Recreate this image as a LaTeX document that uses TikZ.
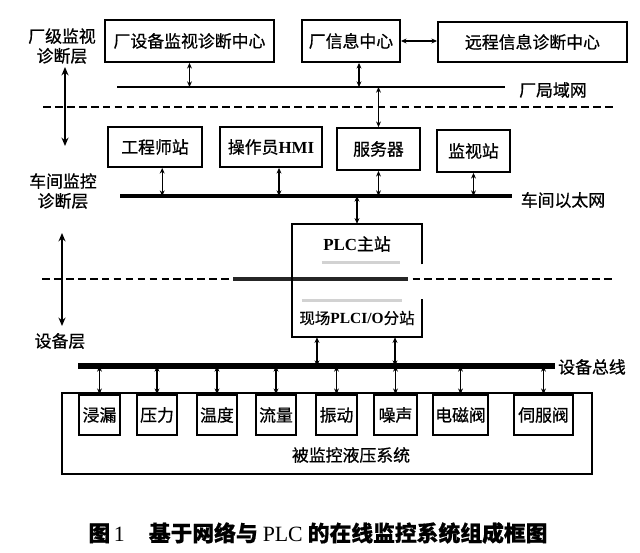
\documentclass[tikz,border=0pt]{standalone}
\usepackage{fontspec}
\setmainfont{Noto Sans CJK SC}[FakeBold=0.7]
\newfontfamily\lat{Liberation Serif}
\usetikzlibrary{arrows.meta, calc}

\begin{document}
\begin{tikzpicture}[
    x=0.025cm, y=-0.025cm,
    >={Stealth[length=4pt,width=3.5pt]},
    font=\fontsize{12}{14}\selectfont,
    box/.style={
        draw,
        line width=1.3pt,
        inner sep=1pt
    },
    sensor/.style={box, minimum height=1cm},
    link/.style={<->, line width=0.9pt},
    net/.style={line width=1.4pt},
    layer/.style={line width=2pt, dash pattern=on 5.5pt off 3pt},
    span/.style={{Stealth[length=6pt,width=5pt]}-{Stealth[length=6pt,width=5pt]}, line width=1.2pt},
    lbl/.style={align=center, inner sep=0pt}
]
\useasboundingbox (0,0) rectangle (640,553);

% layer labels
\node[lbl] (lvl1) at (62,46) {厂级监视\\诊断层};
\node[lbl] (lvl2) at (63,191) {车间监控\\诊断层};
\node[lbl] (lvl3) at (60,341) {设备层};
\coordinate (a1) at (65,67);
\coordinate (a2) at (65,146);
\coordinate (a3) at (62,233);
\coordinate (a4) at (62,326);
\draw[span] (a1) -- (a2);
\draw[span] (a3) -- (a4);

% layer borders
\coordinate (d1L) at (43,107);
\coordinate (d1R) at (615,107);
\coordinate (d2L) at (42,279);
\coordinate (d2R) at (613,279);
\draw[layer] (d1L) -- (d1R);
\draw[layer] (d2L) -- (d2R);
\draw[line width=2.2pt, black!85] (233,279) -- (408,279);

% plant level
\node[box, minimum width=4.225cm, minimum height=1.05cm] (sbzx) at (189.5,41) {厂设备监视诊断中心};
\node[box, minimum width=2.45cm, minimum height=1.05cm] (xxzx) at (351,41) {厂信息中心};
\node[box, minimum width=4.725cm, minimum height=1cm] (yczx) at (532.5,42) {远程信息诊断中心};
\coordinate (lanL) at (117,87);
\coordinate (lanR) at (505,87);
\draw[net] (lanL) -- (lanR);
\node (lan) at (553,90) {厂局域网};
\draw[link] (xxzx.east) -- (xxzx.east -| yczx.west);
\draw[link] (sbzx.south) -- (sbzx.south |- lanL);
\draw[link] ([xshift=0.2cm]xxzx.south) -- ([xshift=0.2cm]xxzx.south |- lanL);

% workshop level
\node[box, minimum width=2.35cm, minimum height=1cm] (gcs) at (155,147) {工程师站};
\node[box, minimum width=2.55cm, minimum height=1cm] (czy) at (271,147) {操作员{\lat\bfseries HMI}};
\node[box, minimum width=2.075cm, minimum height=1.05cm] (fwq) at (378.5,149) {服务器};
\node[box, minimum width=1.825cm, minimum height=1.05cm] (jsz) at (473.5,151) {监视站};
\coordinate (ethL) at (120,196);
\coordinate (ethR) at (512,196);
\draw[line width=2.2pt] (ethL) -- (ethR);
\node (eth) at (563,200) {车间以太网};
\draw[link] (fwq.north |- lanL) -- (fwq.north);
\draw[link] ([xshift=0.18cm]gcs.south) -- ([xshift=0.18cm]gcs.south |- ethL);
\draw[link] ([xshift=0.2cm]czy.south) -- ([xshift=0.2cm]czy.south |- ethL);
\draw[link] (fwq.south) -- (fwq.south |- ethL);
\draw[link] (jsz.south) -- (jsz.south |- ethL);

% PLC stations
\node[minimum width=3.25cm, minimum height=1cm] (plc) at (357,244) {{\lat\bfseries PLC}主站};
\node[minimum width=3.25cm, minimum height=0.95cm, font=\fontsize{11}{13}\selectfont] (io) at (357,318) {现场{\lat\bfseries PLCI/O}分站};
\draw[line width=1.3pt] (plc.south east) -- (plc.north east) -- (plc.north west)
    -- (io.south west) -- (io.south east) -- (io.north east);
\draw[gray!35, line width=2pt] ($(plc.south west)+(30,-2)$) -- ($(plc.south east)+(-22,-2)$);
\draw[gray!35, line width=2pt] ($(io.north west)+(10,2)$) -- ($(io.north east)+(-20,2)$);
\draw[link] (plc.north |- ethL) -- (plc.north);

% device bus
\coordinate (busL) at (78,366);
\coordinate (busR) at (555,366);
\draw[line width=4.3pt] (busL) -- (busR);
\node (bus) at (592,367) {设备总线};
\draw[link] ([xshift=-1cm]io.south) -- ([xshift=-1cm]io.south |- busL);
\draw[link] ([xshift=0.95cm]io.south) -- ([xshift=0.95cm]io.south |- busL);

% hydraulic system
\node[box, minimum width=13.25cm, minimum height=2.025cm] (hyd) at (327,433.5) {};
\node (hydlbl) at (351,455) {被监控液压系统};
\node[sensor, minimum width=1.025cm] (s1) at (99.5,415) {浸漏};
\node[sensor, minimum width=1cm] (s2) at (157,415) {压力};
\node[sensor, minimum width=1cm] (s3) at (217,415) {温度};
\node[sensor, minimum width=1cm] (s4) at (276,415) {流量};
\node[sensor, minimum width=1.025cm] (s5) at (336.5,415) {振动};
\node[sensor, minimum width=1.075cm] (s6) at (395.5,415) {噪声};
\node[sensor, minimum width=1.375cm] (s7) at (460.5,415) {电磁阀};
\node[sensor, minimum width=1.475cm] (s8) at (543.5,415) {伺服阀};
\path[link]
(s1.north |- busL) edge (s1.north)
(s2.north |- busL) edge (s2.north)
(s3.north |- busL) edge (s3.north)
(s4.north |- busL) edge (s4.north)
(s5.north |- busL) edge (s5.north)
(s6.north |- busL) edge (s6.north)
(s7.north |- busL) edge (s7.north)
(s8.north |- busL) edge (s8.north);

% caption
\node[font=\fontsize{15.5}{18}\selectfont\bfseries] (cap) at (318,533)
    {图{\lat\mdseries\,1}\hspace{1.1em}基于网络与 {\lat\mdseries PLC} 的在线监控系统组成框图};
\end{tikzpicture}
\end{document}
